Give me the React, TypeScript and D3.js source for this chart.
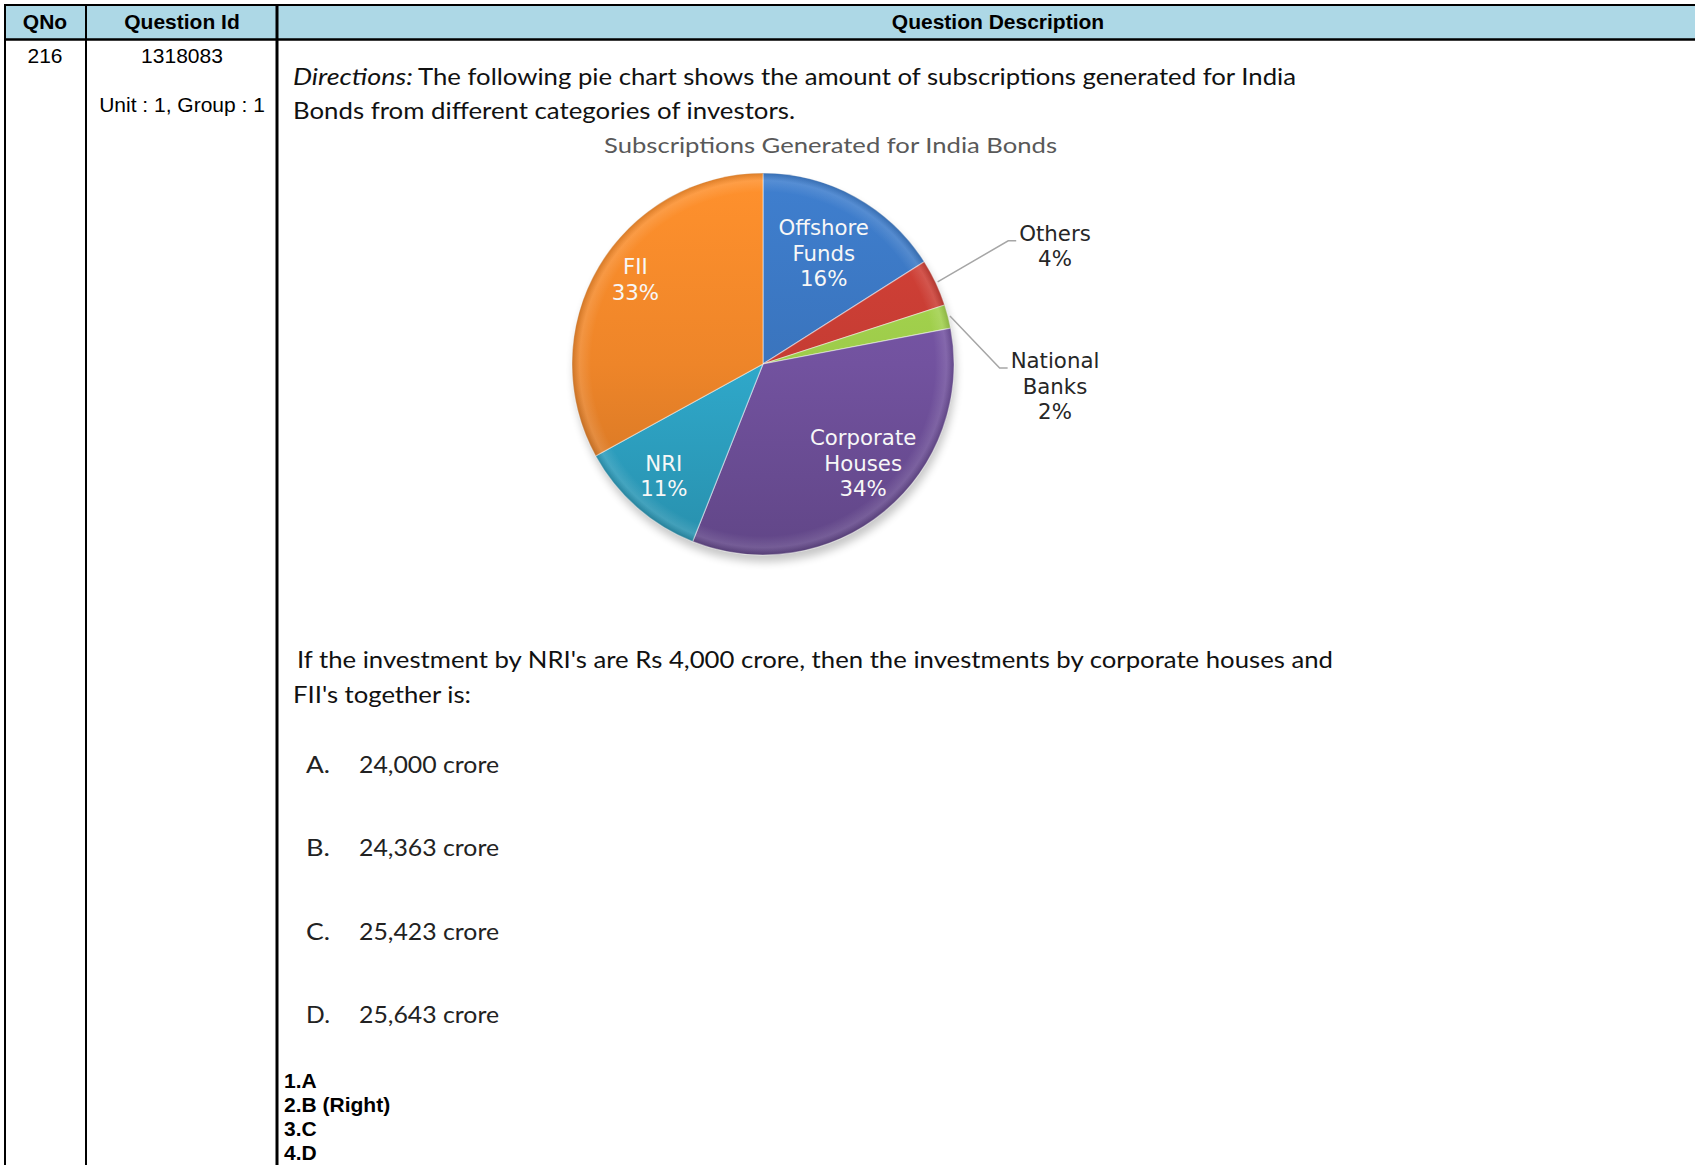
import { useEffect, useRef } from "react";
import { select, pie, arc, color } from "d3";

// ---- content ----
const headers = ["QNo", "Question Id", "Question Description"];
const questionNo = "216";
const questionId = "1318083";
const questionUnit = "Unit : 1, Group : 1";
const directionsLead = "Directions:";
const directionsRest = "The following pie chart shows the amount of subscriptions generated for India";
const directionsLine2 = "Bonds from different categories of investors.";
const chartTitle = "Subscriptions Generated for India Bonds";

const categories = ["Offshore Funds", "Others", "National Banks", "Corporate Houses", "NRI", "FII"];
const shares = [16, 4, 2, 34, 11, 33];
const sliceColors = ["#3a74bd", "#c53c33", "#9dcb4a", "#72529f", "#2fa8ca", "#ee8529"];

const questionLines = [
  "If the investment by NRI's are Rs 4,000 crore, then the investments by corporate houses and",
  "FII's together is:",
];
const optionLetters = ["A.", "B.", "C.", "D."];
const optionTexts = ["24,000 crore", "24,363 crore", "25,423 crore", "25,643 crore"];
const answerLines = ["1.A", "2.B (Right)", "3.C", "4.D"];

const W = 1695;
const H = 1165;

const drawPage = (el: SVGSVGElement) => {
  const svg = select(el);
  svg.selectAll("*").remove();
  const defs = svg.append("defs");

  // ---- table frame ----
  const colX = [5, 86, 277];
  const colMid = [45, 182, 998];
  svg.append("rect").attr("x", 5).attr("y", 5).attr("width", W).attr("height", 34).attr("fill", "#add8e6");
  svg.append("line").attr("x1", 4).attr("x2", W).attr("y1", 5).attr("y2", 5).attr("stroke", "#000").attr("stroke-width", 2);
  svg.append("line").attr("x1", 4).attr("x2", W).attr("y1", 39.5).attr("y2", 39.5).attr("stroke", "#000").attr("stroke-width", 2.5);
  svg
    .selectAll("line.col")
    .data(colX)
    .join("line")
    .attr("class", "col")
    .attr("x1", (d) => d)
    .attr("x2", (d) => d)
    .attr("y1", 4)
    .attr("y2", H)
    .attr("stroke", "#000")
    .attr("stroke-width", (d, i) => (i === 2 ? 3 : 2));

  svg
    .selectAll("text.hdr")
    .data(headers)
    .join("text")
    .attr("class", "hdr")
    .attr("x", (d, i) => colMid[i])
    .attr("y", 29)
    .attr("text-anchor", "middle")
    .style("font-family", "'Liberation Sans', Arial, sans-serif")
    .style("font-weight", 700)
    .style("font-size", "21px")
    .text((d) => d);

  const cell = (t: string, x: number, y: number) =>
    svg
      .append("text")
      .attr("x", x)
      .attr("y", y)
      .attr("text-anchor", "middle")
      .style("font-family", "'Liberation Sans', Arial, sans-serif")
      .style("font-size", "21px")
      .text(t);
  cell(questionNo, colMid[0], 63);
  cell(questionId, colMid[1], 63);
  cell(questionUnit, colMid[1], 112);

  // ---- body text (Calibri-like, squeezed to the reference widths) ----
  const body = (t: string, x: number, y: number, w: number, size = 24, fill = "#111", italic = false) =>
    svg
      .append("text")
      .attr("x", x)
      .attr("y", y)
      .attr("textLength", w)
      .attr("lengthAdjust", "spacingAndGlyphs")
      .style("font-family", "Lato, 'Open Sans', sans-serif")
      .style("font-size", `${size}px`)
      .style("font-style", italic ? "italic" : "normal")
      .attr("fill", fill)
      .text(t);

  body(directionsLead, 293, 85, 120, 24, "#111", true);
  body(directionsRest, 418, 85, 878);
  body(directionsLine2, 293, 119, 502);
  body(chartTitle, 604, 153, 453, 22, "#595959");

  body(questionLines[0], 297, 668, 1036);
  body(questionLines[1], 293, 703, 178);

  const optY = [773, 856, 940, 1023];
  optionLetters.forEach((l, i) => body(l, 306, optY[i], 24, 24, "#222"));
  optionTexts.forEach((t, i) => body(t, 359, optY[i], 140, 24, "#222"));

  svg
    .selectAll("text.ans")
    .data(answerLines)
    .join("text")
    .attr("class", "ans")
    .attr("x", 284)
    .attr("y", (d, i) => 1088 + i * 24)
    .style("font-family", "'Liberation Sans', Arial, sans-serif")
    .style("font-weight", 700)
    .style("font-size", "21px")
    .text((d) => d);

  // ---- pie ----
  const cx = 763;
  const cy = 364;
  const R = 191;

  const shadow = defs.append("filter").attr("id", "pieShadow").attr("x", "-20%").attr("y", "-20%").attr("width", "140%").attr("height", "140%");
  shadow.append("feGaussianBlur").attr("stdDeviation", 4);

  sliceColors.forEach((c, i) => {
    const g = defs
      .append("linearGradient")
      .attr("id", `slice${i}`)
      .attr("gradientUnits", "userSpaceOnUse")
      .attr("x1", 0)
      .attr("x2", 0)
      .attr("y1", -R)
      .attr("y2", R);
    g.append("stop").attr("offset", 0).attr("stop-color", color(c)!.brighter(0.25).formatHex());
    g.append("stop").attr("offset", 0.5).attr("stop-color", c);
    g.append("stop").attr("offset", 1).attr("stop-color", color(c)!.darker(0.45).formatHex());
  });
  const rim = defs.append("radialGradient").attr("id", "rim").attr("cx", "50%").attr("cy", "50%").attr("r", "50%");
  rim.append("stop").attr("offset", 0).attr("stop-color", "#fff").attr("stop-opacity", 0);
  rim.append("stop").attr("offset", 0.9).attr("stop-color", "#fff").attr("stop-opacity", 0);
  rim.append("stop").attr("offset", 0.96).attr("stop-color", "#fff").attr("stop-opacity", 0.12);
  rim.append("stop").attr("offset", 1).attr("stop-color", "#000").attr("stop-opacity", 0.14);

  const pg = svg.append("g").attr("transform", `translate(${cx},${cy})`);
  pg.append("circle")
    .attr("cx", 2)
    .attr("cy", 7)
    .attr("r", R)
    .attr("fill", "#000")
    .attr("opacity", 0.22)
    .attr("filter", "url(#pieShadow)");

  const arcs = pie<number>().sort(null).value((d) => d)(shares);
  const sliceArc = arc<any>().innerRadius(0).outerRadius(R);

  pg.selectAll("path.slice")
    .data(arcs)
    .join("path")
    .attr("class", "slice")
    .attr("d", sliceArc)
    .attr("fill", (d, i) => `url(#slice${i})`)
    .attr("stroke", "rgba(255,255,255,0.45)")
    .attr("stroke-width", 1.2);
  pg.append("circle").attr("r", R).attr("fill", "url(#rim)");

  // labels inside the big slices
  const inside: Record<number, { rf: number; nudge: number }> = {
    0: { rf: 0.66, nudge: 0 },
    3: { rf: 0.74, nudge: -5.5 },
    4: { rf: 0.785, nudge: 0 },
    5: { rf: 0.8, nudge: 2.7 },
  };
  const lineH = 25.5;
  const labelFont = "'DejaVu Sans', Verdana, sans-serif";
  const labelSize = "21.3px";

  arcs.forEach((a, i) => {
    const mid = (a.startAngle + a.endAngle) / 2;
    const lines = [...categories[i].split(" "), `${shares[i]}%`];
    if (inside[i]) {
      const ang = mid + (inside[i].nudge * Math.PI) / 180;
      const r = R * inside[i].rf;
      const x = Math.sin(ang) * r;
      const y = -Math.cos(ang) * r;
      const t = pg
        .append("text")
        .attr("text-anchor", "middle")
        .style("font-family", labelFont)
        .style("font-size", labelSize)
        .attr("fill", "#f7f7f7");
      lines.forEach((l, k) =>
        t
          .append("tspan")
          .attr("x", x)
          .attr("y", y + (k - (lines.length - 1) / 2) * lineH + 7)
          .text(l)
      );
    } else {
      // outside label with leader line
      const shift = i === 1 ? -41 : 52;
      const ox = Math.sin(mid) * (R + 2);
      const oy = -Math.cos(mid) * (R + 2);
      const lx = R + 101;
      const ly = oy + shift;
      const t = pg
        .append("text")
        .attr("text-anchor", "middle")
        .style("font-family", labelFont)
        .style("font-size", labelSize)
        .attr("fill", "#262626");
      lines.forEach((l, k) =>
        t
          .append("tspan")
          .attr("x", lx)
          .attr("y", ly + k * lineH)
          .text(l)
      );
      const firstW = (t.select("tspan").node() as SVGTextContentElement).getComputedTextLength();
      const left = lx - firstW / 2 - 3;
      pg.append("polyline")
        .attr("points", `${ox},${oy} ${left - 8},${ly} ${left},${ly}`)
        .attr("fill", "none")
        .attr("stroke", "#a6a6a6")
        .attr("stroke-width", 1.5);
    }
  });
};

export default function App() {
  const ref = useRef<SVGSVGElement>(null);

  useEffect(() => {
    if (ref.current) drawPage(ref.current);
  }, []);

  return (
    <svg
      ref={ref}
      width={W}
      height={H}
      style={{ position: "absolute", left: 0, top: 0, background: "#fff" }}
    />
  );
}
